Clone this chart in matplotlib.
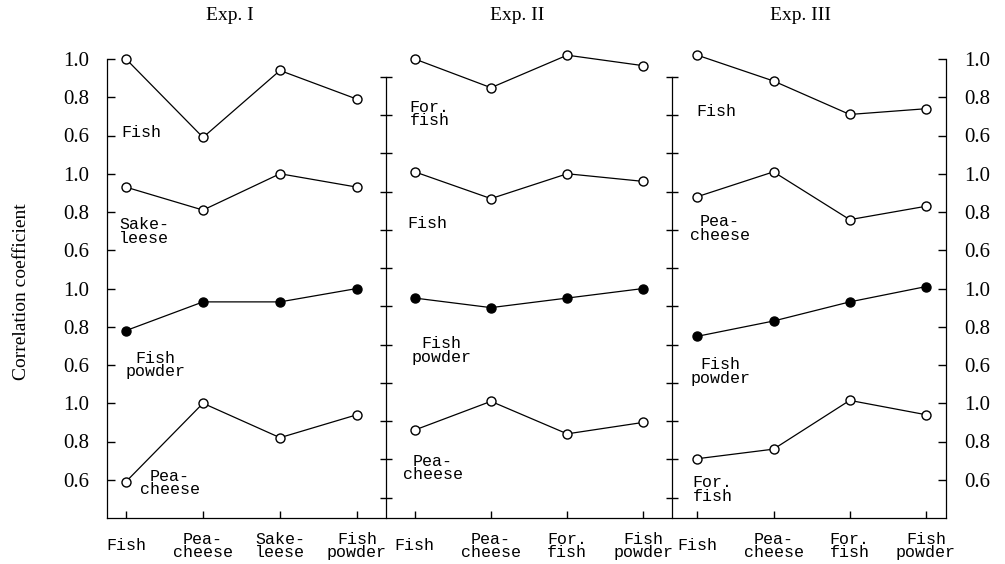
import numpy as np
import matplotlib.pyplot as plt

plt.rcParams['font.family'] = ['Liberation Serif', 'DejaVu Serif']

# Data
titles = ["Exp. I", "Exp. II", "Exp. III"]
cats1 = ["Fish", "Pea-\ncheese", "Sake-\nleese", "Fish\npowder"]
cats2 = ["Fish", "Pea-\ncheese", "For.\nfish", "Fish\npowder"]
cats3 = ["Fish", "Pea-\ncheese", "For.\nfish", "Fish\npowder"]

rows1 = ["Fish", "Sake-\nleese", "Fish\npowder", "Pea-\ncheese"]
rows2 = ["For.\nfish", "Fish", "Fish\npowder", "Pea-\ncheese"]
rows3 = ["Fish", "Pea-\ncheese", "Fish\npowder", "For.\nfish"]

exp1_fish = [1.00, 0.59, 0.94, 0.79]
exp1_sake = [0.93, 0.81, 1.00, 0.93]
exp1_powder = [0.78, 0.93, 0.93, 1.00]
exp1_pea = [0.59, 1.00, 0.82, 0.94]

exp2_forfish = [1.00, 0.85, 1.02, 0.965]
exp2_fish = [1.01, 0.87, 1.00, 0.96]
exp2_powder = [0.95, 0.90, 0.95, 1.00]
exp2_pea = [0.86, 1.01, 0.84, 0.90]

exp3_fish = [1.02, 0.885, 0.71, 0.74]
exp3_pea = [0.88, 1.01, 0.76, 0.83]
exp3_powder = [0.75, 0.83, 0.93, 1.01]
exp3_forfish = [0.71, 0.76, 1.015, 0.94]

panels = [
    (cats1, rows1, [exp1_fish, exp1_sake, exp1_powder, exp1_pea]),
    (cats2, rows2, [exp2_forfish, exp2_fish, exp2_powder, exp2_pea]),
    (cats3, rows3, [exp3_fish, exp3_pea, exp3_powder, exp3_forfish]),
]
filled_rows = ["Fish\npowder"]

# layout
panel_start = [0.0, 3.75, 7.42]
panel_step = [1.0, 0.99, 0.99]
group_shift = 0.6  # each block sits 3 ticks (0.6) below the previous
# row label offsets (dx from first category, y relative to block)
label_pos = [
    [(0.195, 0.618), (0.234, 0.70), (0.38, 0.60), (0.57, 0.583)],
    [(0.195, 0.712), (0.17, 0.742), (0.35, 0.676), (0.235, 0.661)],
    [(0.25, 0.723), (0.29, 0.714), (0.30, 0.566), (0.20, 0.549)],
]
mono = ['Liberation Mono', 'DejaVu Sans Mono']
lw = 0.9

fig = plt.figure(figsize=(10.05, 5.64), dpi=100)
ax = fig.add_axes([107/1005, 1 - 518/564, (946-107)/1005, (518-59)/564])
ax.set_xlim(-0.247, 10.65)
ax.set_ylim(-1.4, 1.0)

for p, (cats, rows, series) in enumerate(panels):
    xs = panel_start[p] + panel_step[p] * np.arange(len(cats))
    for k, (name, vals) in enumerate(zip(rows, series)):
        y = np.array(vals) - group_shift * k
        face = 'black' if name in filled_rows else 'white'
        ax.plot(xs, y, '-o', color='black', lw=lw, ms=6.5, mew=1.0,
                mfc=face, mec='black', clip_on=False, zorder=3)
        dx, dy = label_pos[p][k]
        ax.text(xs[0] + dx, dy - group_shift * k, name, family=mono,
                fontsize=12, ha='center', va='center', multialignment='center',
                linespacing=0.9)
    # category labels under the axis
    for x, c in zip(xs, cats):
        ax.text(x, -1.546, c, family=mono, fontsize=12, ha='center',
                va='center', multialignment='center', linespacing=0.85,
                clip_on=False)
    ax.text(xs.mean() - 0.15, 1.225, titles[p], fontsize=14, ha='center',
            va='center')

# separators between panels, with ticks on both sides
sep_x = [3.38, 7.09]
sep_ticks = 0.906 - 0.2 * np.arange(12)
for sx in sep_x:
    ax.plot([sx, sx], [sep_ticks[0], -1.4], color='black', lw=lw, clip_on=False)
    ax.plot(np.full(len(sep_ticks), sx), sep_ticks, ls='none', marker='_',
            ms=8.6, mew=1.0, color='black', clip_on=False)

# axes styling
yt = 1.0 - 0.2 * np.arange(12)
ylab = ["1.0", "0.8", "0.6"] * 4
ax.set_yticks(yt)
ax.set_yticklabels(ylab)
ax.tick_params(axis='y', direction='in', length=6, width=1.0, labelsize=15,
               left=True, right=True, labelleft=True, labelright=True, pad=13)
xt = [panel_start[p] + panel_step[p] * i for p in range(3) for i in range(4)]
ax.set_xticks(xt)
ax.set_xticklabels([])
ax.tick_params(axis='x', direction='in', length=5, width=1.0)
ax.spines['top'].set_visible(False)
for s in ['left', 'right', 'bottom']:
    ax.spines[s].set_linewidth(lw)

fig.text(22/1005, 1 - 292/564, "Correlation coefficient", rotation=90,
         fontsize=14, ha='center', va='center')

fig.savefig('out.png', dpi=100)
